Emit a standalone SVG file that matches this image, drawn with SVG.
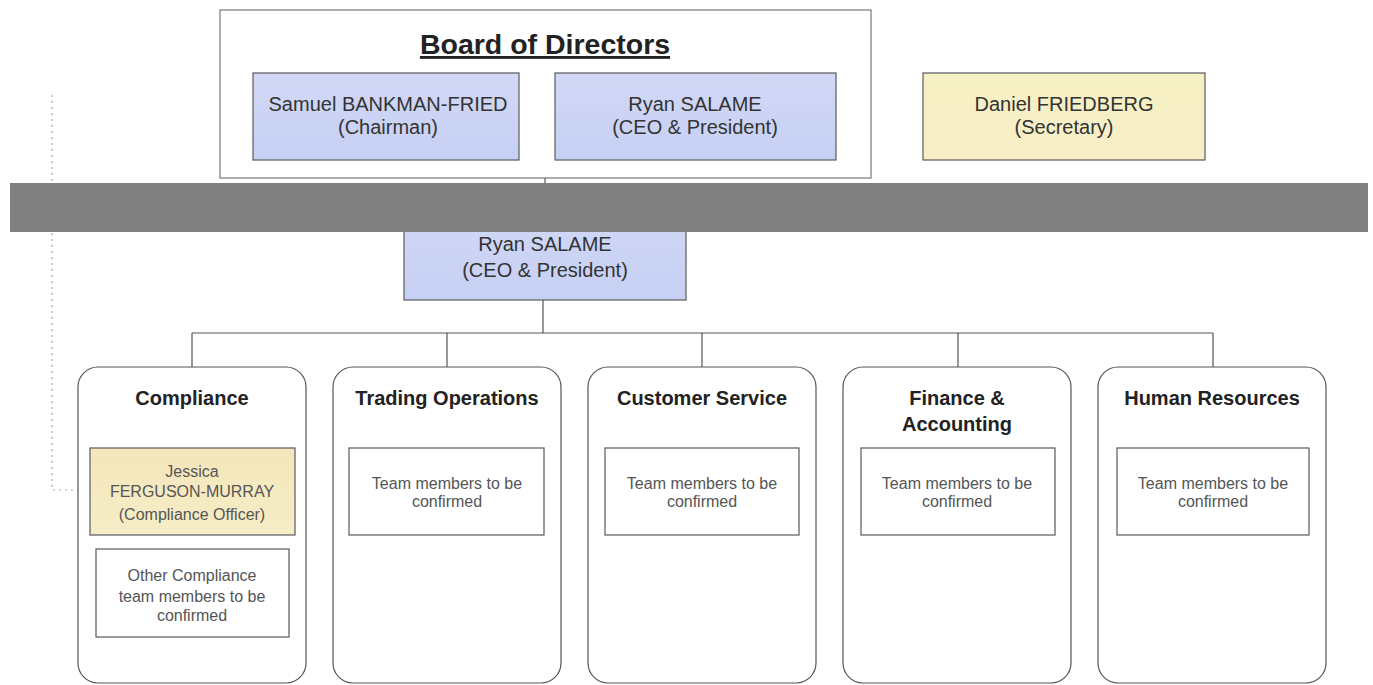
<svg xmlns="http://www.w3.org/2000/svg" width="1373" height="685" viewBox="0 0 1373 685">
<defs>
<linearGradient id="blue" x1="0" y1="0" x2="0" y2="1"><stop offset="0" stop-color="#d2d8f6"/><stop offset="1" stop-color="#c6d0f4"/></linearGradient>
<linearGradient id="yellow" x1="0" y1="0" x2="0" y2="1"><stop offset="0" stop-color="#f6f1c4"/><stop offset="1" stop-color="#f8eec6"/></linearGradient>
<linearGradient id="jess" x1="0" y1="0" x2="0" y2="1"><stop offset="0" stop-color="#f4e6bc"/><stop offset="1" stop-color="#f6edc6"/></linearGradient>
</defs>
<style>
text{font-family:"Liberation Sans",Arial,sans-serif;text-anchor:middle;}
.n{font-size:20px;fill:#333;}
.s{font-size:16px;fill:#555;}
.h{font-size:20px;font-weight:bold;fill:#222;}
.box{stroke:#666;stroke-width:1.3;}
.dept{fill:#fff;stroke:#555;stroke-width:1.2;}
.c{fill:none;stroke:#555;stroke-width:1.2;}
</style>
<rect width="1373" height="685" fill="#fff"/>
<g id="connectors">
<path class="c" d="M545 178 V231"/>
<path class="c" d="M543 300 V333 M192 333 H1213 M192 333 V367 M447 333 V367 M702 333 V367 M958 333 V367 M1213 333 V367"/>
<path d="M52 95 V490 H90" fill="none" stroke="#aaa" stroke-width="1.2" stroke-dasharray="2,4"/>
</g>
<g id="board">
<rect x="220" y="10" width="651" height="168" fill="#fff" stroke="#777" stroke-width="1.2"/>
<text x="545" y="54" font-size="28.5" font-weight="bold" fill="#222" text-decoration="underline">Board of Directors</text>
</g>
<g id="samuel">
<rect class="box" x="253" y="73" width="266" height="87" fill="url(#blue)"/>
<text class="n" x="388" y="111">Samuel BANKMAN-FRIED</text>
<text class="n" x="388" y="134">(Chairman)</text>
</g>
<g id="ryan-board">
<rect class="box" x="555" y="73" width="281" height="87" fill="url(#blue)"/>
<text class="n" x="695" y="111">Ryan SALAME</text>
<text class="n" x="695" y="134">(CEO &amp; President)</text>
</g>
<g id="daniel">
<rect class="box" x="923" y="73" width="282" height="87" fill="url(#yellow)"/>
<text class="n" x="1064" y="111">Daniel FRIEDBERG</text>
<text class="n" x="1064" y="134">(Secretary)</text>
</g>
<g id="ceo">
<rect class="box" x="404" y="205" width="282" height="95" fill="url(#blue)"/>
<text class="n" x="545" y="251" font-size="21">Ryan SALAME</text>
<text class="n" x="545" y="277" font-size="21">(CEO &amp; President)</text>
</g>
<g id="redaction">
<rect x="10" y="183" width="1358" height="49" fill="#808080"/>
</g>
<g id="compliance">
<rect class="dept" x="78" y="367" width="228" height="316" rx="20"/>
<text class="h" x="192" y="405">Compliance</text>
<rect class="box" x="90" y="448" width="205" height="87" fill="url(#jess)"/>
<text class="s" x="192" y="477">Jessica</text>
<text class="s" x="192" y="497">FERGUSON-MURRAY</text>
<text class="s" x="192" y="520">(Compliance Officer)</text>
<rect class="box" x="96" y="549" width="193" height="88" fill="#fff"/>
<text class="s" x="192" y="581">Other Compliance</text>
<text class="s" x="192" y="602">team members to be</text>
<text class="s" x="192" y="621">confirmed</text>
</g>
<g id="trading">
<rect class="dept" x="333" y="367" width="228" height="316" rx="20"/>
<text class="h" x="447" y="405">Trading Operations</text>
<rect class="box" x="349" y="448" width="195" height="87" fill="#fff"/>
<text class="s" x="447" y="489">Team members to be</text>
<text class="s" x="447" y="507">confirmed</text>
</g>
<g id="customer">
<rect class="dept" x="588" y="367" width="228" height="316" rx="20"/>
<text class="h" x="702" y="405">Customer Service</text>
<rect class="box" x="605" y="448" width="194" height="87" fill="#fff"/>
<text class="s" x="702" y="489">Team members to be</text>
<text class="s" x="702" y="507">confirmed</text>
</g>
<g id="finance">
<rect class="dept" x="843" y="367" width="228" height="316" rx="20"/>
<text class="h" x="957" y="405">Finance &amp;</text>
<text class="h" x="957" y="431">Accounting</text>
<rect class="box" x="861" y="448" width="194" height="87" fill="#fff"/>
<text class="s" x="957" y="489">Team members to be</text>
<text class="s" x="957" y="507">confirmed</text>
</g>
<g id="hr">
<rect class="dept" x="1098" y="367" width="228" height="316" rx="20"/>
<text class="h" x="1212" y="405">Human Resources</text>
<rect class="box" x="1117" y="448" width="192" height="87" fill="#fff"/>
<text class="s" x="1213" y="489">Team members to be</text>
<text class="s" x="1213" y="507">confirmed</text>
</g>
</svg>
